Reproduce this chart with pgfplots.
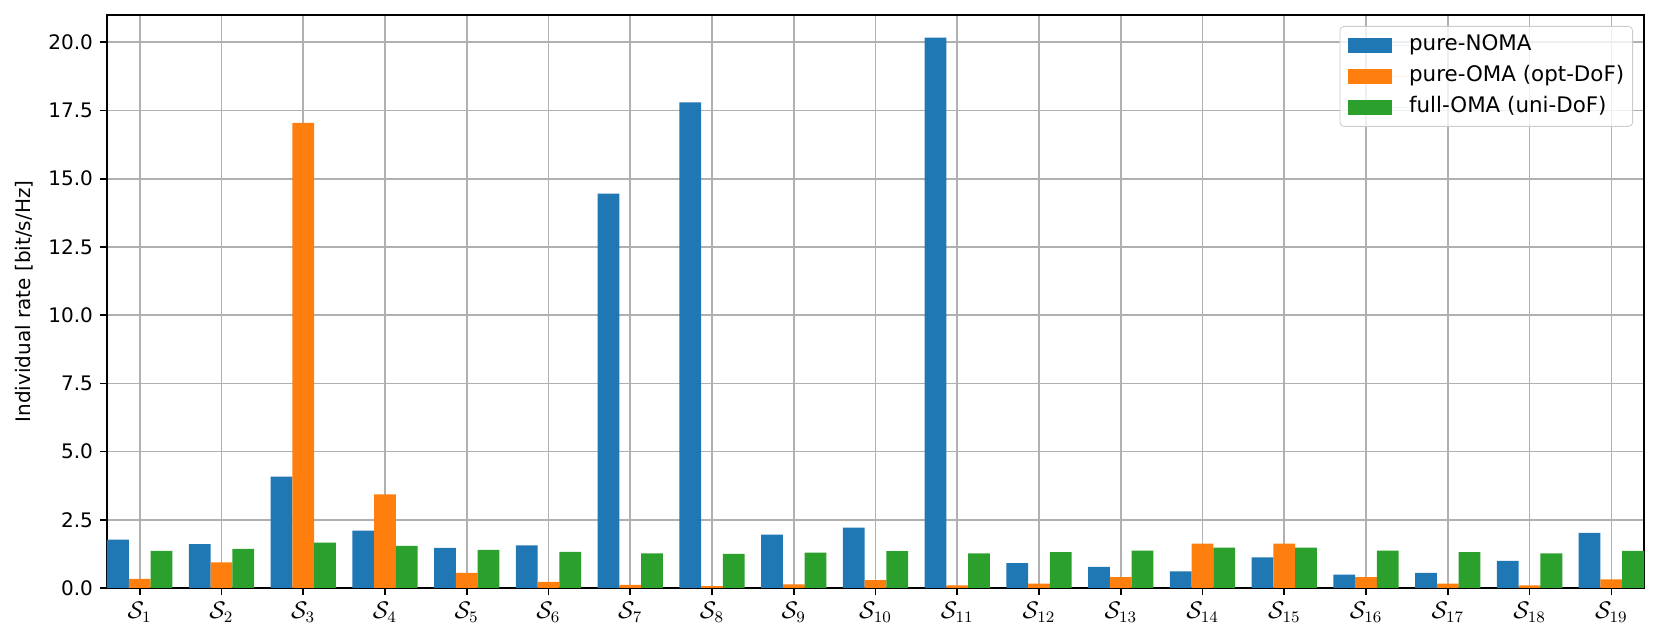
\documentclass[border=0pt]{standalone}
\usepackage{fontspec}
\setmainfont{DejaVu Sans}
\usepackage{pgfplots}
\pgfplotsset{compat=1.18}
\usetikzlibrary{calc}

\definecolor{CBlue}{HTML}{1F77B4}
\definecolor{COrange}{HTML}{FF7F0E}
\definecolor{CGreen}{HTML}{2CA02C}
\definecolor{GridGray}{HTML}{B0B0B0}
\definecolor{LegEdge}{HTML}{CCCCCC}

% individual rates per user (bit/s/Hz)
\pgfplotstableread{
x noma oma full
0  1.77  0.33 1.36
1  1.61  0.94 1.43
2  4.08 17.05 1.66
3  2.10  3.43 1.54
4  1.47  0.55 1.40
5  1.56  0.22 1.32
6 14.45  0.11 1.27
7 17.80  0.07 1.25
8  1.96  0.13 1.30
9  2.21  0.29 1.35
10 20.17 0.10 1.27
11 0.91  0.16 1.31
12 0.77  0.40 1.37
13 0.61  1.63 1.48
14 1.12  1.63 1.48
15 0.49  0.40 1.37
16 0.55  0.16 1.31
17 0.99  0.10 1.27
18 2.02  0.32 1.36
}\rates

\begin{document}
\begin{tikzpicture}
\begin{axis}[
  name=ax,
  scale only axis,
  width=768.5pt, height=286.5pt,
  xmin=-0.4, xmax=18.4, ymin=0, ymax=21.0,
  ybar, bar width=0.26667,
  xtick={0,...,18},
  xticklabels={$\mathcal{S}_{1}$,$\mathcal{S}_{2}$,$\mathcal{S}_{3}$,$\mathcal{S}_{4}$,
    $\mathcal{S}_{5}$,$\mathcal{S}_{6}$,$\mathcal{S}_{7}$,$\mathcal{S}_{8}$,
    $\mathcal{S}_{9}$,$\mathcal{S}_{10}$,$\mathcal{S}_{11}$,$\mathcal{S}_{12}$,
    $\mathcal{S}_{13}$,$\mathcal{S}_{14}$,$\mathcal{S}_{15}$,$\mathcal{S}_{16}$,
    $\mathcal{S}_{17}$,$\mathcal{S}_{18}$,$\mathcal{S}_{19}$},
  ytick={0,2.5,...,20},
  /pgf/number format/assume math mode=true,
  yticklabel style={/pgf/number format/.cd,fixed,fixed zerofill,precision=1},
  tick label style={font=\fontsize{10}{12}\selectfont, color=black},
  xticklabel style={font=\fontsize{11.5}{13}\selectfont},
  tick align=outside, major tick length=3.5pt,
  xtick pos=bottom, ytick pos=left,
  every tick/.style={black, line width=0.8pt},
  axis line style={black, line width=0.8pt},
  grid=major, grid style={GridGray, line width=0.8pt},
  ylabel={Individual rate [bit/s/Hz]},
  ylabel style={font=\fontsize{10}{12}\selectfont, at={(axis description cs:-0.054,0.5)}, anchor=center},
  legend cell align=left,
  legend image code/.code={
    \fill[#1, sharp corners, fill opacity=1] (0pt,-3.65pt) rectangle (21.7pt,3.65pt);
    \path (0pt,0pt) -- (30.4pt,0pt);
  },
  legend style={font=\fontsize{10.7}{12.8}\selectfont, draw=LegEdge, rounded corners=2pt,
    fill=white, fill opacity=0.8, text opacity=1,
    at={(1,1)}, anchor=north east, xshift=-5.5pt, yshift=-5.5pt,
    inner xsep=4.2pt, inner ysep=2.75pt, row sep=2pt,
    nodes={inner xsep=0pt, inner ysep=1.5pt, text height=8pt, text depth=2.5pt}},
]
\addplot[fill=CBlue, draw=none, bar shift=-0.26667] table[x=x, y=noma] {\rates};
\addlegendentry{pure-NOMA}
\addplot[fill=COrange, draw=none, bar shift=0] table[x=x, y=oma] {\rates};
\addlegendentry{pure-OMA (opt-DoF)}
\addplot[fill=CGreen, draw=none, bar shift=0.26667] table[x=x, y=full] {\rates};
\addlegendentry{full-OMA (uni-DoF)}
\end{axis}
\pgfresetboundingbox
\path ([xshift=-53.5pt,yshift=-25.7pt]ax.south west) rectangle ([xshift=8pt,yshift=7.5pt]ax.north east);
\end{tikzpicture}
\end{document}
